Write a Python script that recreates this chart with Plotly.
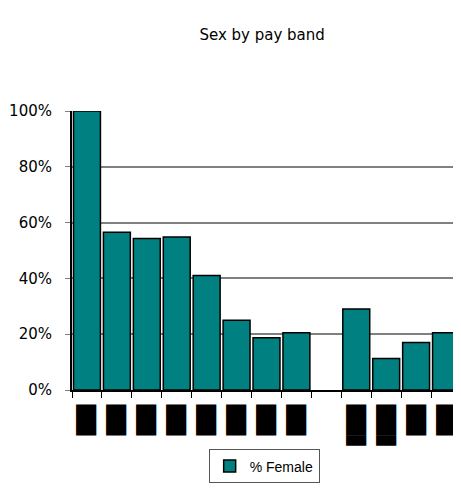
import plotly.graph_objects as go

categories = ["B1", "B2", "B3", "B4", "B5", "B6", "B7", "B8", "gap", "S1", "S2", "S3", "S4"]
pct_female = [1.00, 0.565, 0.543, 0.548, 0.41, 0.25, 0.187, 0.205, None, 0.29, 0.113, 0.17, 0.205]
tick_labels = ["███", "███", "███", "███", "███", "███", "███", "███", "", "████", "████", "███", "███"]

fig = go.Figure()
fig.add_trace(go.Bar(
    x=categories, y=pct_female, name="% Female",
    marker=dict(color="#008080", line=dict(color="#000000", width=1.5)),
))
fig.update_layout(
    width=453, height=483,
    margin=dict(l=64, r=0, t=103, b=101),
    paper_bgcolor="white", plot_bgcolor="white",
    title=dict(text="Sex by pay band", x=0.561, xanchor="center", yref="container", y=0.944, yanchor="middle",
               font=dict(family="DejaVu Sans", size=15, color="#000000")),
    bargap=0.1,
    showlegend=True,
    legend=dict(orientation="h", x=0.494, xanchor="center", yref="container", y=0.086, yanchor="top",
                bordercolor="#555555", borderwidth=1,
                font=dict(family="Liberation Sans", size=14, color="#000000"),
                itemwidth=30),
    xaxis=dict(type="category", tickvals=categories, ticktext=tick_labels, tickangle=-90,
               tickfont=dict(family="DejaVu Sans Mono", size=17, color="#000000"),
               ticks="outside", tickson="boundaries", ticklen=6, tickcolor="#000000",
               ticklabelstandoff=6,
               showline=True, linecolor="#000000", linewidth=2, showgrid=False),
    yaxis=dict(range=[0, 1], tickvals=[0, 0.2, 0.4, 0.6, 0.8, 1.0], tickformat=".0%",
               tickfont=dict(family="DejaVu Sans", size=15, color="#000000"),
               showgrid=True, gridcolor="#808080", gridwidth=1.5,
               ticks="outside", ticklen=5, tickcolor="#808080", ticklabelstandoff=10,
               showline=True, linecolor="#000000", linewidth=2, zeroline=False),
)
fig.write_html("out.html")
